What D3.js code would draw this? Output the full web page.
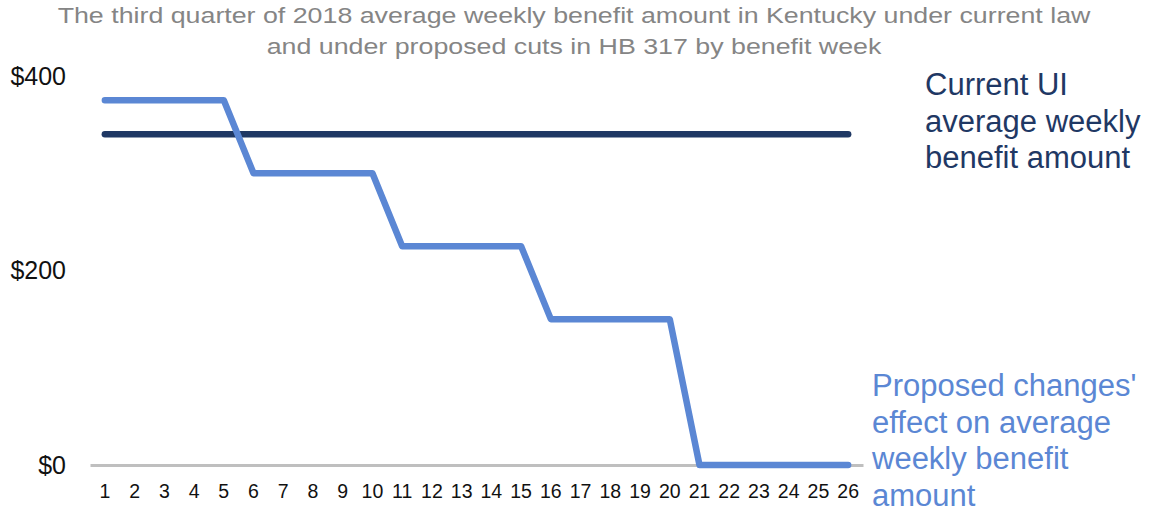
<!DOCTYPE html>
<html>
<head>
<meta charset="utf-8">
<script src="https://cdn.jsdelivr.net/npm/d3@7"></script>
<style>
  body { margin: 0; background: #fff; }
  svg { font-family: "Liberation Sans", Arial, sans-serif; }
</style>
</head>
<body>
<div id="chart"></div>
<script>
// benefit weeks
const weeks = d3.range(1, 27).map(String);
// current law average weekly benefit
const currentUI = weeks.map(() => 340);
// proposed cuts in HB 317
const proposed = [375, 375, 375, 375, 375, 300, 300, 300, 300, 300,
                  225, 225, 225, 225, 225, 150, 150, 150, 150, 150,
                  0, 0, 0, 0, 0, 0];
const yTicks = [0, 200, 400];
const titleLines = [
    "The third quarter of 2018 average weekly benefit amount in Kentucky under current law",
    "and under proposed cuts in HB 317 by benefit week"
];
const currentLabel = ["Current UI", "average weekly", "benefit amount"];
const proposedLabel = ["Proposed changes'", "effect on average", "weekly benefit", "amount"];

const width = 1156, height = 512;
const margin = { top: 76, right: 293, bottom: 47, left: 90 };
const innerW = width - margin.left - margin.right;
const innerH = height - margin.top - margin.bottom;

const svg = d3.select("#chart").append("svg")
    .attr("width", width)
    .attr("height", height);

// title (wide type in the original, so stretch it horizontally)
svg.append("g")
    .attr("transform", "translate(574,0) scale(1.217,1)")
    .selectAll("text")
    .data(titleLines)
    .enter().append("text")
    .attr("x", 0)
    .attr("y", (d, i) => 23 + i * 31)
    .attr("text-anchor", "middle")
    .attr("font-size", 22)
    .attr("fill", "#858585")
    .text(d => d);

const g = svg.append("g")
    .attr("transform", "translate(" + margin.left + "," + margin.top + ")");

const x = d3.scaleBand()
    .domain(weeks)
    .range([0, innerW]);

const y = d3.scaleLinear()
    .domain([0, 400])
    .range([innerH, 0]);

// y axis labels
const yAxis = d3.axisLeft(y)
    .tickValues(yTicks)
    .tickSize(0)
    .tickPadding(24)
    .tickFormat(d => "$" + d);

g.append("g")
    .attr("class", "y-axis")
    .call(yAxis)
    .call(a => a.select(".domain").remove())
    .selectAll("text")
    .attr("font-size", 25)
    .attr("font-family", "Liberation Sans, Arial, sans-serif")
    .attr("fill", "#111");

// x axis
const xAxis = d3.axisBottom(x)
    .tickSize(0)
    .tickPadding(19);

g.append("g")
    .attr("class", "x-axis")
    .attr("transform", "translate(0," + innerH + ")")
    .call(xAxis)
    .call(a => a.select(".domain")
        .attr("stroke", "#bfbfbf")
        .attr("stroke-width", 3))
    .selectAll("text")
    .attr("font-size", 19.5)
    .attr("font-family", "Liberation Sans, Arial, sans-serif")
    .attr("fill", "#111");

const line = d3.line()
    .x((d, i) => x(weeks[i]) + x.bandwidth() / 2)
    .y(d => y(d));

g.append("path")
    .datum(currentUI)
    .attr("fill", "none")
    .attr("stroke", "#1f3864")
    .attr("stroke-width", 6.5)
    .attr("stroke-linecap", "round")
    .attr("d", line);

g.append("path")
    .datum(proposed)
    .attr("fill", "none")
    .attr("stroke", "#5b87d4")
    .attr("stroke-width", 6.5)
    .attr("stroke-linecap", "round")
    .attr("stroke-linejoin", "round")
    .attr("d", line);

// series labels
const labels = [
    { lines: currentLabel, x: 925, y: 95, color: "#1f3864" },
    { lines: proposedLabel, x: 872, y: 396, color: "#5b87d4" }
];

labels.forEach(l => {
    svg.append("text")
        .attr("x", l.x)
        .attr("y", l.y)
        .attr("font-size", 31)
        .attr("fill", l.color)
        .selectAll("tspan")
        .data(l.lines)
        .enter().append("tspan")
        .attr("x", l.x)
        .attr("dy", (d, i) => i === 0 ? 0 : 36.5)
        .text(d => d);
});
</script>
</body>
</html>
